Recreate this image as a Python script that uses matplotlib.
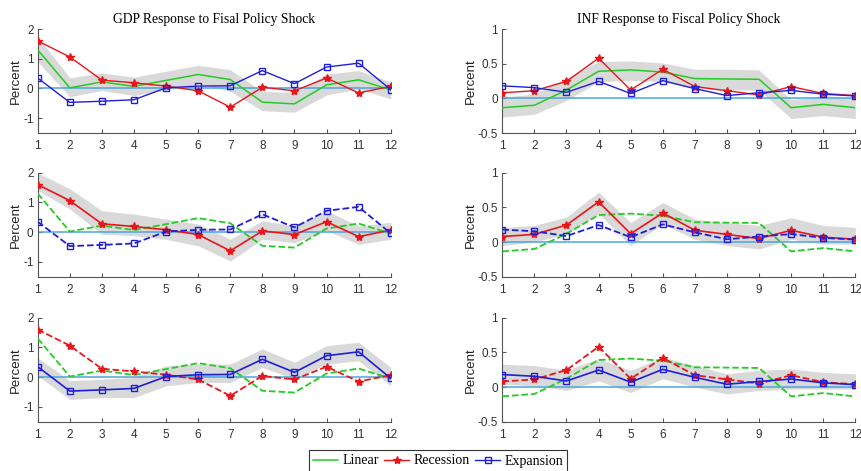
import numpy as np
import matplotlib
matplotlib.use("Agg")
import matplotlib.pyplot as plt
from matplotlib.lines import Line2D

# horizons
horizon = list(range(1, 13))

# GDP responses
gdp_linear = [1.30, 0.02, 0.22, 0.07, 0.27, 0.47, 0.30, -0.46, -0.52, 0.12, 0.29, -0.05]
gdp_recession = [1.60, 1.06, 0.28, 0.19, 0.08, -0.08, -0.63, 0.04, -0.08, 0.35, -0.15, 0.07]
gdp_expansion = [0.35, -0.47, -0.43, -0.38, 0.02, 0.08, 0.09, 0.60, 0.16, 0.72, 0.85, -0.04]

# GDP confidence bands
gdp_linear_lo = [0.90, -0.28, -0.07, -0.24, -0.05, 0.16, -0.10, -0.75, -0.80, -0.22, -0.02, -0.35]
gdp_linear_hi = [1.74, 0.36, 0.52, 0.38, 0.58, 0.78, 0.63, -0.10, -0.14, 0.48, 0.60, 0.22]
gdp_recession_lo = [1.40, 0.78, -0.07, -0.12, -0.24, -0.46, -0.97, -0.24, -0.35, 0.05, -0.41, -0.24]
gdp_recession_hi = [1.99, 1.46, 0.72, 0.61, 0.44, 0.27, -0.24, 0.38, 0.21, 0.72, 0.21, 0.33]
gdp_expansion_lo = [0.05, -0.75, -0.69, -0.69, -0.29, -0.18, -0.18, 0.33, -0.07, 0.44, 0.55, -0.29]
gdp_expansion_hi = [0.65, -0.12, -0.07, -0.01, 0.38, 0.44, 0.44, 0.95, 0.50, 1.06, 1.17, 0.33]

# INF responses
inf_linear = [-0.135, -0.10, 0.12, 0.39, 0.41, 0.38, 0.285, 0.28, 0.275, -0.135, -0.087, -0.135]
inf_recession = [0.08, 0.11, 0.245, 0.58, 0.12, 0.42, 0.17, 0.11, 0.05, 0.17, 0.07, 0.04]
inf_expansion = [0.18, 0.155, 0.087, 0.245, 0.07, 0.255, 0.14, 0.04, 0.08, 0.115, 0.06, 0.035]

# INF confidence bands
inf_linear_lo = [-0.27, -0.23, -0.03, 0.24, 0.26, 0.24, 0.14, 0.12, 0.12, -0.29, -0.25, -0.29]
inf_linear_hi = [0.02, 0.06, 0.29, 0.53, 0.54, 0.51, 0.42, 0.42, 0.41, -0.02, 0.04, 0.00]
inf_recession_lo = [-0.05, 0.00, 0.12, 0.41, -0.05, 0.26, 0.04, -0.05, -0.10, 0.04, -0.03, -0.03]
inf_recession_hi = [0.21, 0.24, 0.36, 0.72, 0.28, 0.57, 0.33, 0.28, 0.24, 0.35, 0.24, 0.21]
inf_expansion_lo = [0.04, 0.02, -0.05, 0.09, -0.08, 0.12, 0.00, -0.10, -0.05, -0.03, -0.03, -0.03]
inf_expansion_hi = [0.33, 0.31, 0.24, 0.41, 0.24, 0.43, 0.31, 0.19, 0.24, 0.26, 0.21, 0.19]

green = '#22cc22'
red = '#e8161b'
blue = '#1f1fd8'
zero_col = '#4da6dc'
band_col = '#d9d9d9'

plt.rcParams['font.family'] = ['Liberation Sans', 'DejaVu Sans']

fig = plt.figure(figsize=(8.61, 4.71), dpi=100)

lefts = [0.0438, 0.5834]
width = 0.410
bottoms = [0.7176, 0.4125, 0.1047]
height = 0.2208

gdp = {'lin': gdp_linear, 'rec': gdp_recession, 'exp': gdp_expansion}
inf = {'lin': inf_linear, 'rec': inf_recession, 'exp': inf_expansion}
gdp_bands = [(gdp_linear_lo, gdp_linear_hi), (gdp_recession_lo, gdp_recession_hi),
             (gdp_expansion_lo, gdp_expansion_hi)]
inf_bands = [(inf_linear_lo, inf_linear_hi), (inf_recession_lo, inf_recession_hi),
             (inf_expansion_lo, inf_expansion_hi)]
focus = ['lin', 'rec', 'exp']

for col, (data, bands, ylim, yticks, title) in enumerate([
        (gdp, gdp_bands, (-1.5, 2), [-1, 0, 1, 2], 'GDP Response to Fisal Policy Shock'),
        (inf, inf_bands, (-0.5, 1), [-0.5, 0, 0.5, 1], 'INF Response to Fiscal Policy Shock')]):
    for row in range(3):
        ax = fig.add_axes([lefts[col], bottoms[row], width, height])
        lo, hi = bands[row]
        ax.fill_between(horizon, lo, hi, color=band_col, lw=0, zorder=1)
        ax.axhline(0, color=zero_col, lw=1.1, zorder=2)

        if row == 0:
            styles = {'lin': '-', 'rec': '-', 'exp': '-'}
            widths = {'lin': 1.1, 'rec': 1.0, 'exp': 1.0}
        else:
            styles = {k: ('-' if k == focus[row] else '--') for k in focus}
            widths = {k: (1.2 if k == focus[row] else 1.3) for k in focus}

        ax.plot(horizon, data['lin'], ls=styles['lin'], color=green, lw=widths['lin'], zorder=3)
        ax.plot(horizon, data['rec'], ls=styles['rec'], color=red, lw=widths['rec'],
                marker='*', ms=6, zorder=4)
        ax.plot(horizon, data['exp'], ls=styles['exp'], color=blue, lw=widths['exp'],
                marker='s', ms=4.5, mfc='none', mew=1.0, zorder=5)

        ax.set_xlim(1, 12)
        ax.set_ylim(*ylim)
        ax.set_xticks(horizon)
        ax.set_yticks(yticks)
        ax.set_yticklabels([f'{t:g}' for t in yticks])
        for s in ['top', 'right']:
            ax.spines[s].set_visible(False)
        for s in ['left', 'bottom']:
            ax.spines[s].set_color('#555555')
            ax.spines[s].set_linewidth(0.8)
        ax.tick_params(direction='in', length=3, width=0.8, colors='#555555',
                       labelcolor='#333333', labelsize=8.5)
        ax.tick_params(axis='x', pad=5)
        ax.tick_params(axis='y', pad=3)
        ax.set_ylabel('Percent', fontsize=9.5, color='#222222', labelpad=1)
        if row == 0:
            ax.set_title(title, fontsize=9.8, family='Liberation Serif', pad=4)

handles = [
    Line2D([], [], color=green, lw=1.1),
    Line2D([], [], color=red, lw=1.0, marker='*', ms=6),
    Line2D([], [], color=blue, lw=1.0, marker='s', ms=4.5, mfc='none'),
]
leg = fig.legend(handles, ['Linear', 'Recession', 'Expansion'], loc='center',
                 bbox_to_anchor=(438 / 861, 1 - 461 / 471), ncol=3, frameon=True,
                 fancybox=False, edgecolor='black', handlelength=1.8, columnspacing=0.4,
                 handletextpad=0.3, borderpad=0.3, prop={'family': 'Liberation Serif', 'size': 10})
leg.get_frame().set_linewidth(0.8)

fig.savefig('out.png', dpi=100)
